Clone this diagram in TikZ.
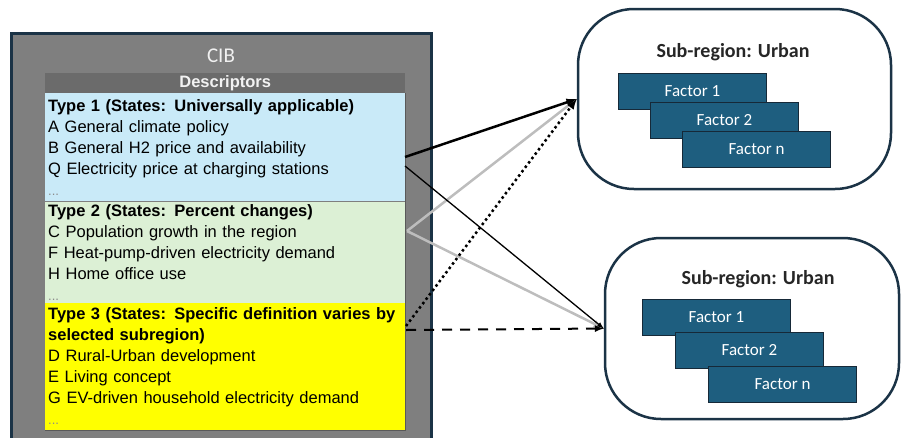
\documentclass[tikz,border=0pt]{standalone}
\usepackage{fontspec}
\setmainfont{Liberation Sans}
\newfontfamily\calibri{Carlito}
\usetikzlibrary{positioning,calc}

\definecolor{cibgray}{HTML}{7F7F7F}
\definecolor{headgray}{HTML}{6B6B6B}
\definecolor{navyline}{HTML}{1B3346}
\definecolor{typeone}{HTML}{C9EAF8}
\definecolor{typetwo}{HTML}{DCF0D5}
\definecolor{typethree}{HTML}{FFFF00}
\definecolor{factorblue}{HTML}{1E5E7F}
\definecolor{arrowgray}{HTML}{BDBDBD}

\newcommand{\more}{{\color{black!45}\fontsize{13}{21}\selectfont...}}

\begin{document}
\begin{tikzpicture}[x=1pt,y=-1pt]
    \tikzstyle{band}=[rectangle, anchor=north west, text width=354pt, inner xsep=3pt, inner ysep=0pt, align=left, font=\fontsize{16.5}{21}\selectfont]
    \tikzstyle{region}=[rectangle, rounded corners=56pt, draw=navyline, line width=2.5pt, fill=white]
    \tikzstyle{title}=[font=\calibri\bfseries\fontsize{20}{24}\selectfont, text=black!85]
    \tikzstyle{factor}=[rectangle, fill=factorblue, draw=navyline!80!black, line width=1.2pt, minimum width=148pt, minimum height=36pt, text=white, font=\calibri\fontsize{17}{20}\selectfont]
    \tikzstyle{link}=[-latex, line width=2.5pt]
    \useasboundingbox (0,0) rectangle (901,437);

    % CIB frame, runs off the bottom edge
    \draw[navyline, line width=3pt, fill=cibgray] (11.5,33) rectangle (431.5,460);
    \node[font=\calibri\fontsize{21}{24}\selectfont, text=white!88!gray] (cib) at (221,56) {CIB};

    % descriptor list
    \node[band, fill=typeone, minimum height=108pt] (type1) at (45,93) {%
      \textbf{Type 1 (States: Universally applicable)}\\
      A General climate policy\\
      B General H2 price and availability\\
      Q Electricity price at charging stations\\
      \more};
    \node[band, fill=typetwo, minimum height=101pt, below=0pt of type1] (type2) {%
      \textbf{Type 2 (States: Percent changes)}\\
      C Population growth in the region\\
      F Heat-pump-driven electricity demand\\
      H Home office use\\
      \more};
    \node[band, fill=typethree, minimum height=127pt, below=0pt of type2] (type3) {%
      \textbf{Type 3 (States: Specific definition varies by}\\
      \textbf{selected subregion)}\\
      D Rural-Urban development\\
      E Living concept\\
      G EV-driven household electricity demand\\
      \more};
    \node[fill=headgray, minimum width=360pt, minimum height=20pt, inner sep=0pt, above=0pt of type1, text=white!90!gray, font=\bfseries\fontsize{16.5}{18}\selectfont] (head) {Descriptors};
    \draw[black!65, line width=1pt] (type1.north east) -- (type3.south east) -- (type3.south west);

    % sub-regions
    \node[region, minimum width=313pt, minimum height=180pt] (urbanA) at (734.5,99) {};
    \node[title] (titleA) at (733,52) {Sub-region: Urban};
    \node[factor] (a1) at (692.5,91.5) {Factor 1};
    \node[factor] (a2) at ($(a1)+(32,29)$) {Factor 2};
    \node[factor] (an) at ($(a2)+(32,29)$) {Factor n};

    \node[region, minimum width=294pt, minimum height=181pt] (urbanB) at (752,328.5) {};
    \node[title] (titleB) at (758,279) {Sub-region: Urban};
    \node[factor] (b1) at (716.5,317.5) {Factor 1};
    \node[factor] (b2) at ($(b1)+(33,33)$) {Factor 2};
    \node[factor] (bn) at ($(b2)+(33,34)$) {Factor n};

    % links from the descriptor types
    \coordinate (t1out) at (405,157);
    \coordinate (t1outb) at (405,166);
    \coordinate (t2out) at (407,231);
    \coordinate (t3out) at (406,326);
    \coordinate (t3outb) at (406,330);
    \draw[link, arrowgray] (t2out) -- (urbanA.west);
    \draw[link, arrowgray] (t2out) -- (urbanB.west);
    \draw[link] (t1out) -- (urbanA.west);
    \draw[-latex, line width=1.3pt] (t1outb) -- (urbanB.west);
    \draw[link, dash pattern=on 2.5pt off 3pt] (t3out) -- (urbanA.west);
    \draw[link, line width=2pt, dash pattern=on 10pt off 8pt] (t3outb) -- (urbanB.west);
\end{tikzpicture}
\end{document}
